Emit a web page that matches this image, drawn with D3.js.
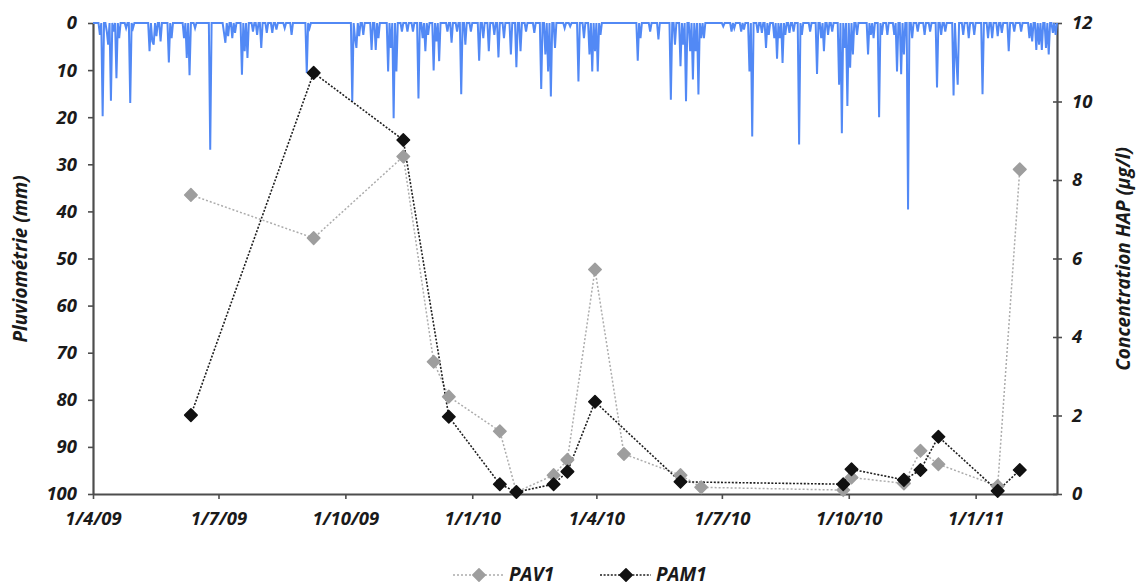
<!DOCTYPE html>
<html><head><meta charset="utf-8">
<script src="https://cdn.jsdelivr.net/npm/d3@7"></script>
<style>
body{margin:0;background:#fff;}
svg text{font-family:"Open Sans",sans-serif;font-weight:700;font-style:italic;fill:#1a1a1a;}
</style></head><body>
<svg id="chart" width="1137" height="586"></svg>
<script>
// ---------- data ----------
const xTickDates = ["2009-04-01","2009-07-01","2009-10-01","2010-01-01","2010-04-01","2010-07-01","2010-10-01","2011-01-01"];
const rainTicks = [0,10,20,30,40,50,60,70,80,90,100];
const concTicks = [0,2,4,6,8,10,12];
const seriesNames = ["PAV1","PAM1"];

// daily rainfall (mm) on rainy days; other days are dry (0 mm)
const rainDays = [
["2009-04-06",2.5],["2009-04-08",19.8],["2009-04-11",1.8],["2009-04-12",4.6],["2009-04-14",16.5],["2009-04-16",1.8],["2009-04-18",11.7],["2009-04-20",3.2],["2009-04-25",1.1],["2009-04-28",17],["2009-04-30",1.1],
["2009-05-12",6],["2009-05-14",3.9],["2009-05-15",4.6],["2009-05-17",2.8],["2009-05-20",3.9],["2009-05-26",8.4],["2009-05-28",3.2],
["2009-06-06",3.2],["2009-06-08",7.4],["2009-06-10",11.1],["2009-06-14",1.1],["2009-06-25",26.9],
["2009-07-05",2.1],["2009-07-06",4.2],["2009-07-08",2.8],["2009-07-11",3.2],["2009-07-13",2.1],["2009-07-18",11],["2009-07-20",6],["2009-07-22",7.4],["2009-07-26",1.8],["2009-07-29",2.5],
["2009-08-01",5.3],["2009-08-05",2.1],["2009-08-09",2.1],["2009-08-12",1.4],["2009-08-18",1.1],["2009-08-23",2.5],
["2009-09-03",10.6],["2009-09-05",1.1],
["2009-10-06",16.6],["2009-10-08",3.2],["2009-10-09",5.3],["2009-10-11",2.8],["2009-10-14",2.5],["2009-10-20",5.7],["2009-10-23",5.7],["2009-10-25",3.2],
["2009-11-01",10.3],["2009-11-03",5.3],["2009-11-05",20.2],["2009-11-07",10.3],["2009-11-11",1.8],["2009-11-15",1.8],["2009-11-19",1.8],["2009-11-23",16],["2009-11-26",3.2],["2009-11-28",6],["2009-11-30",2.5],
["2009-12-04",10.1],["2009-12-06",3.9],["2009-12-08",8.1],["2009-12-14",1.8],["2009-12-17",4.2],["2009-12-21",1.8],["2009-12-24",15.1],["2009-12-27",4.6],["2009-12-31",1.8],
["2010-01-06",8],["2010-01-09",3.2],["2010-01-13",6],["2010-01-17",2.5],["2010-01-20",7.3],["2010-01-24",3.2],["2010-01-29",6.7],
["2010-02-02",9.4],["2010-02-05",6],["2010-02-09",1.8],["2010-02-15",2.1],["2010-02-20",14],["2010-02-23",6.7],["2010-02-25",10.3],["2010-02-27",15.6],
["2010-03-02",5.3],["2010-03-09",1.1],["2010-03-13",0.7],["2010-03-19",12.4],["2010-03-23",3.2],["2010-03-27",6.7],["2010-03-29",10.3],["2010-03-31",6],
["2010-04-02",10.3],["2010-04-04",2.5],
["2010-05-01",8],["2010-05-03",3.2],["2010-05-10",1.8],["2010-05-16",3.5],["2010-05-25",16.3],["2010-05-28",4.6],
["2010-06-01",9.2],["2010-06-03",4.6],["2010-06-05",16.6],["2010-06-08",6],["2010-06-10",12],["2010-06-12",6],["2010-06-14",15.2],["2010-06-16",3.2],["2010-06-18",3.2],
["2010-07-02",0.7],["2010-07-08",1.8],["2010-07-10",1.1],["2010-07-15",1.8],["2010-07-17",1.4],["2010-07-21",10.3],["2010-07-23",24.1],["2010-07-27",2.1],["2010-07-30",2.1],
["2010-08-02",5.3],["2010-08-04",2.5],["2010-08-08",3.2],["2010-08-10",7.6],["2010-08-12",3.2],["2010-08-14",8.5],["2010-08-16",2.5],["2010-08-19",2.1],["2010-08-22",1.8],["2010-08-26",25.8],["2010-08-28",2.5],
["2010-09-03",1.8],["2010-09-08",10.8],["2010-09-11",3.2],["2010-09-13",6],["2010-09-16",2.5],["2010-09-19",1.8],["2010-09-24",13.1],["2010-09-26",23.4],["2010-09-28",5.3],["2010-09-30",17.6],
["2010-10-02",9.5],["2010-10-04",6.7],["2010-10-07",2.5],["2010-10-15",6.7],["2010-10-17",2.5],["2010-10-19",3.2],["2010-10-23",20],["2010-10-25",2.5],["2010-10-29",2.5],
["2010-11-03",2.5],["2010-11-05",10.3],["2010-11-08",10.9],["2010-11-10",6.7],["2010-11-13",39.6],["2010-11-16",3.2],["2010-11-20",1.8],["2010-11-25",2.5],["2010-11-29",1.8],
["2010-12-04",13.7],["2010-12-07",2.5],["2010-12-10",1.8],["2010-12-16",15.4],["2010-12-18",7.4],["2010-12-19",13.1],["2010-12-23",2.5],["2010-12-27",3.2],["2010-12-31",2.5],
["2011-01-06",15.1],["2011-01-10",3.2],["2011-01-13",3.2],["2011-01-17",2.8],["2011-01-20",2.1],["2011-01-25",6],["2011-01-29",1.8],
["2011-02-03",1.8],["2011-02-09",3.2],["2011-02-11",3.9],["2011-02-14",5.7],["2011-02-16",4.6],["2011-02-18",5.7],["2011-02-21",5.3],["2011-02-23",6.7],["2011-02-26",2.1],["2011-02-28",2.5]
];

const pav1Dates = ["2009-06-11","2009-09-08","2009-11-12","2009-12-04","2009-12-15","2010-01-21","2010-02-02","2010-03-01","2010-03-11","2010-03-31","2010-04-21","2010-06-01","2010-06-16","2010-09-27","2010-10-03","2010-11-10","2010-11-22","2010-12-05","2011-01-17","2011-02-02"];
const pav1Values = [7.62,6.52,8.60,3.37,2.48,1.60,0.05,0.48,0.87,5.72,1.02,0.48,0.17,0.10,0.42,0.27,1.10,0.76,0.20,8.27];
const pam1Dates = ["2009-06-11","2009-09-08","2009-11-12","2009-12-15","2010-01-21","2010-02-02","2010-03-01","2010-03-11","2010-03-31","2010-06-01","2010-09-27","2010-10-03","2010-11-10","2010-11-22","2010-12-05","2011-01-17","2011-02-02"];
const pam1Values = [2.01,10.73,9.02,1.97,0.25,0.05,0.25,0.57,2.35,0.31,0.25,0.63,0.36,0.61,1.46,0.08,0.61];

// ---------- chart ----------
const parse = d3.timeParse("%Y-%m-%d");
const fmtKey = d3.timeFormat("%Y-%m-%d");
const svg = d3.select("#chart");
const L = 93, R = 1057, T = 23, B = 494;

const x = d3.scaleTime().domain([parse("2009-04-01"), parse("2011-03-01")]).range([L, R]);
const yRain = d3.scaleLinear().domain([0, 100]).range([T, B]);
const yConc = d3.scaleLinear().domain([0, 12]).range([B, T]);

const axisColor = "#4d4d4d";
function styleAxis(g){
  g.select(".domain").attr("stroke", axisColor).attr("stroke-width", 2.2);
  g.selectAll(".tick line").attr("stroke", axisColor).attr("stroke-width", 1.6);
  g.selectAll(".tick text").style("font-size", "18.5px").attr("fill", "#1a1a1a");
}

// left axis
svg.append("g").attr("transform", `translate(${L},0)`)
  .call(d3.axisLeft(yRain).tickValues(rainTicks).tickSize(5).tickSizeOuter(0).tickPadding(11))
  .call(styleAxis);

// right axis
svg.append("g").attr("transform", `translate(${R},0)`)
  .call(d3.axisRight(yConc).tickValues(concTicks).tickSize(5).tickSizeOuter(0).tickPadding(10))
  .call(styleAxis)
  .call(g => g.selectAll(".tick line").attr("x1", -4));

// bottom axis
svg.append("g").attr("transform", `translate(0,${B})`)
  .call(d3.axisBottom(x).tickValues(xTickDates.map(parse)).tickFormat(d3.timeFormat("%-d/%-m/%y")).tickSize(5).tickSizeOuter(0).tickPadding(13))
  .call(styleAxis);

// rain line (daily)
const rainMap = new Map(rainDays.map(d => [d[0], d[1]]));
const days = d3.timeDay.range(x.domain()[0], d3.timeDay.offset(x.domain()[1], 1));
const rainSeries = days.map(d => ({date: d, mm: rainMap.has(fmtKey(d)) ? rainMap.get(fmtKey(d)) : 0}));
svg.append("path").datum(rainSeries)
  .attr("fill", "none").attr("stroke", "#5289f5").attr("stroke-width", 2).attr("stroke-linejoin", "miter")
  .attr("d", d3.line().x(d => x(d.date)).y(d => yRain(d.mm)));

// concentration series
const series = [
  {name: seriesNames[0], dates: pav1Dates, values: pav1Values, line: "#acacac", mark: "#9e9e9e", dash: "2,2", w: 1.5},
  {name: seriesNames[1], dates: pam1Dates, values: pam1Values, line: "#1e1e1e", mark: "#111", dash: "2,1.6", w: 1.6}
];
const diamond = d3.symbol().type(d3.symbolDiamond2).size(100);
series.forEach(s => {
  const pts = s.dates.map((d, i) => ({date: parse(d), v: s.values[i]}));
  svg.append("path").datum(pts)
    .attr("fill", "none").attr("stroke", s.line).attr("stroke-width", s.w).attr("stroke-dasharray", s.dash)
    .attr("d", d3.line().x(d => x(d.date)).y(d => yConc(d.v)));
});
series.forEach(s => {
  const pts = s.dates.map((d, i) => ({date: parse(d), v: s.values[i]}));
  svg.append("g").selectAll("path").data(pts).join("path")
    .attr("transform", d => `translate(${x(d.date)},${yConc(d.v)})`)
    .attr("d", diamond).attr("fill", s.mark).attr("stroke", s.mark).attr("stroke-width", 1.5).attr("stroke-linejoin", "round");
});

// axis titles
svg.append("text").attr("transform", "translate(27,259) rotate(-90)").attr("text-anchor", "middle")
  .style("font-size", "19px").text("Pluviométrie (mm)");
svg.append("text").attr("transform", "translate(1130,259) rotate(-90)").attr("text-anchor", "middle")
  .style("font-size", "19px").text("Concentration HAP (µg/l)");

// legend
const legendX = [453, 600];
series.forEach((s, i) => {
  const g = svg.append("g").attr("transform", `translate(${legendX[i]},575)`);
  g.append("line").attr("x1", 0).attr("x2", 51).attr("y1", 0).attr("y2", 0)
    .attr("stroke", s.line).attr("stroke-width", s.w).attr("stroke-dasharray", s.dash);
  g.append("path").attr("transform", "translate(26,0)").attr("d", diamond).attr("fill", s.mark).attr("stroke", s.mark).attr("stroke-width", 1.5).attr("stroke-linejoin", "round");
  g.append("text").attr("x", 56).attr("y", 6).style("font-size", "19px").text(s.name);
});
</script>
</body></html>
